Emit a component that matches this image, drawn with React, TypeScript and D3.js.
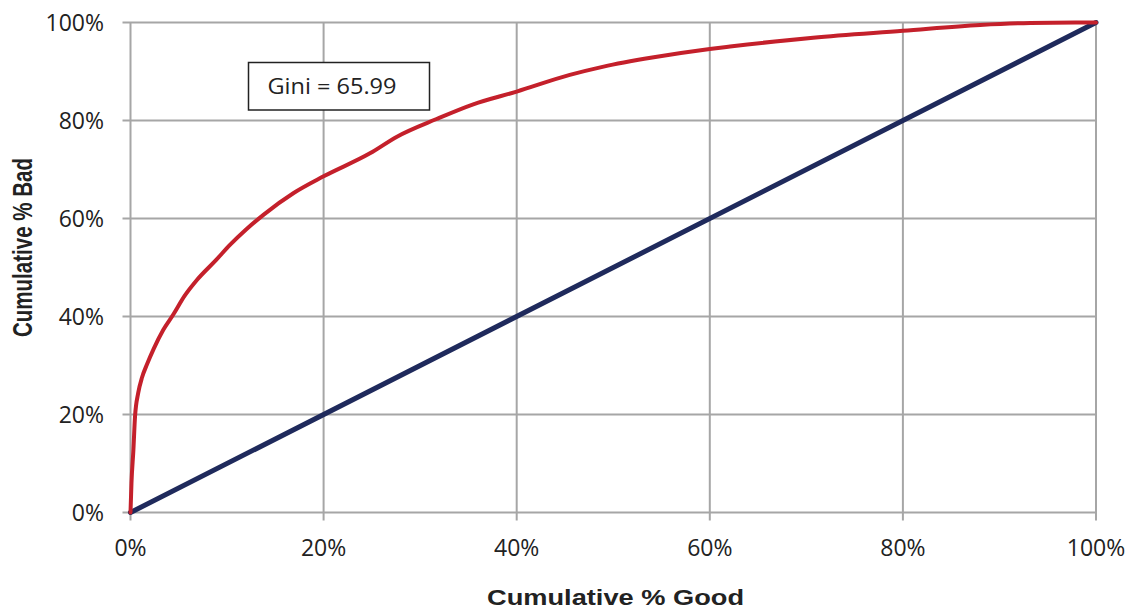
import React from "react";
import * as d3 from "d3";

const goodPct = [0, 0.1, 0.3, 0.47, 0.8, 1.2, 1.7, 2.4, 3.4, 4.4, 5.6, 6.9, 8.9, 10.3, 12.0, 13.8, 16.9, 20, 24.8, 27.6, 31.7, 35.5, 40, 45.5, 49, 54.2, 60, 62.1, 70.7, 80, 88, 93.2, 100];
const badPct = [0, 6, 12.8, 19.6, 24.4, 27.6, 30.2, 33.4, 37.3, 40.3, 44.2, 47.5, 51.6, 54.6, 57.8, 60.8, 65.2, 68.6, 73.3, 76.7, 80.3, 83.3, 85.9, 89.3, 91, 92.9, 94.6, 95.1, 96.9, 98.3, 99.5, 99.9, 100];
const diagX = [0, 100];
const diagY = [0, 100];
const xTicks = [0, 20, 40, 60, 80, 100];
const yTicks = [0, 20, 40, 60, 80, 100];
const giniLabel = "Gini = 65.99";
const xTitle = "Cumulative % Good";
const yTitle = "Cumulative % Bad";

export default function App() {
  const W = 1130, H = 609;
  const left = 130.5, right = 1096, top = 22.5, bottom = 512.5;
  const x = d3.scaleLinear().domain([0, 100]).range([left, right]);
  const y = d3.scaleLinear().domain([0, 100]).range([bottom, top]);
  const line = d3.line<[number, number]>().x(d => x(d[0])).y(d => y(d[1]));
  const smooth = d3.line<[number, number]>().x(d => x(d[0])).y(d => y(d[1])).curve(d3.curveMonotoneX);
  const curve = smooth(goodPct.map((g, i) => [g, badPct[i]] as [number, number])) || "";
  const diag = line(diagX.map((g, i) => [g, diagY[i]] as [number, number])) || "";
  const grid = "#a6a6a6";
  const tickFont = "'Open Sans', sans-serif";
  return (
    <svg width={W} height={H} style={{ position: "absolute", left: 0, top: 0, background: "#fff" }}>
      {xTicks.map(t => (
        <line key={"gx" + t} x1={x(t)} x2={x(t)} y1={top} y2={bottom + 8} stroke={grid} strokeWidth={2} />
      ))}
      {yTicks.map(t => (
        <line key={"gy" + t} x1={left - 8} x2={right} y1={y(t)} y2={y(t)} stroke={grid} strokeWidth={2} />
      ))}
      {yTicks.map(t => (
        <text key={"ly" + t} x={104} y={y(t)} dy="0.36em" textAnchor="end" fontFamily={tickFont} fontSize={23} fill="#222">{t + "%"}</text>
      ))}
      {xTicks.map(t => (
        <text key={"lx" + t} x={x(t)} y={556} textAnchor="middle" fontFamily={tickFont} fontSize={23} fill="#222">{t + "%"}</text>
      ))}
      <path d={diag} fill="none" stroke="#1f2a5c" strokeWidth={5} strokeLinecap="round" />
      <path d={curve} fill="none" stroke="#c4202b" strokeWidth={4} strokeLinejoin="round" strokeLinecap="round" />
      <rect x={248.5} y={62.5} width={181} height={47.5} fill="#fff" stroke="#222" strokeWidth={1.5} />
      <text x={267.5} y={94} fontFamily={tickFont} fontSize={21} fill="#222" textLength={129} lengthAdjust="spacingAndGlyphs">{giniLabel}</text>
      <text x={487} y={604.5} fontFamily="'Liberation Sans', Arial, sans-serif" fontWeight="bold" fontSize={22} fill="#222" textLength={257} lengthAdjust="spacingAndGlyphs">{xTitle}</text>
      <text transform={`translate(31.5,${337}) rotate(-90)`} fontFamily="'Liberation Sans', Arial, sans-serif" fontWeight="bold" fontSize={27} fill="#222" textLength={179} lengthAdjust="spacingAndGlyphs">{yTitle}</text>
    </svg>
  );
}
